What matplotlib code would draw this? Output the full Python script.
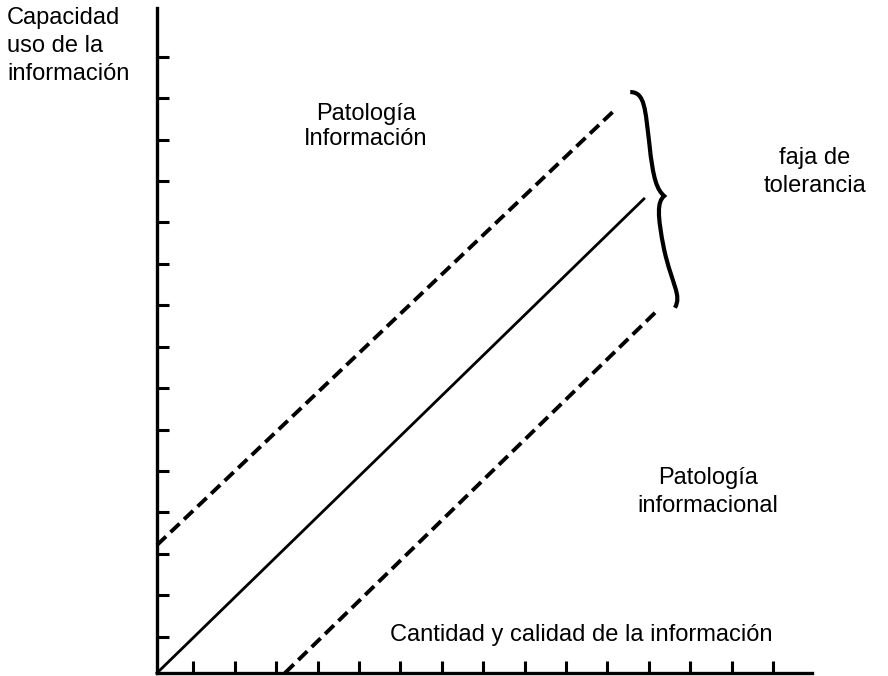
import numpy as np
import matplotlib
matplotlib.use("Agg")
import matplotlib.pyplot as plt
from matplotlib.path import Path
from matplotlib.patches import PathPatch

plt.rcParams['font.family'] = ['Liberation Sans', 'DejaVu Sans']

# tick positions (grid units)
x_ticks = np.arange(1, 16) - 0.12
y_ticks = np.arange(1, 16) - 0.12

# central line and the tolerance band limits
solid_x = [0.0, 11.76]
solid_y = [0.0, 11.45]
upper_x = [0.0, 11.06]
upper_y = [3.09, 13.60]
lower_x = [3.09, 12.10]
lower_y = [0.0, 8.77]

# curly brace outline (bezier vertices)
brace_x = [11.43, 11.79, 11.79, 11.89, 11.98, 12.08, 12.25,
           12.08, 12.08, 12.25, 12.44, 12.68, 12.51]
brace_y = [14.03, 14.03, 13.60, 12.80, 11.91, 11.67, 11.52,
           11.38, 11.06, 10.22, 9.37, 9.13, 8.82]

fig = plt.figure(figsize=(8.88, 6.76), dpi=100)
ax = fig.add_axes([157 / 888, 3 / 676, (812 - 157) / 888, (673 - 8) / 676])
ax.set_xlim(0, 15.82)
ax.set_ylim(0, 16.06)

for s in ['top', 'right']:
    ax.spines[s].set_visible(False)
for s in ['left', 'bottom']:
    ax.spines[s].set_linewidth(2.4)
ax.set_xticks(x_ticks)
ax.set_yticks(y_ticks)
ax.set_xticklabels([])
ax.set_yticklabels([])
ax.tick_params(direction='in', length=8.5, width=2.2, top=False, right=False)

ax.plot(solid_x, solid_y, color='black', lw=2.0, clip_on=False)
ax.plot(upper_x, upper_y, color='black', lw=2.8, dashes=(3.2, 1.6), clip_on=False)
ax.plot(lower_x, lower_y, color='black', lw=2.8, dashes=(3.2, 1.6), clip_on=False)

codes = [Path.MOVETO] + [Path.CURVE4] * 12
brace = Path(np.column_stack([brace_x, brace_y]), codes)
ax.add_patch(PathPatch(brace, fill=False, lw=3.0, color='black', clip_on=False))

fs = 17
fig.text(7 / 888, 1 - 7 / 676, 'Capacidad\nuso de la\ninformación', fontsize=fs,
         ha='left', va='top', linespacing=1.36)
ax.text(5.05, 13.2, 'Patología\nInformación', fontsize=fs, ha='center', va='center',
        linespacing=1.15)
ax.text(15.89, 12.09, 'faja de\ntolerancia', fontsize=fs, ha='center', va='center',
        linespacing=1.34)
ax.text(13.3, 4.37, 'Patología\ninformacional', fontsize=fs, ha='center', va='center',
        linespacing=1.36)
ax.text(10.24, 0.92, 'Cantidad y calidad de la información', fontsize=fs,
        ha='center', va='center')

fig.savefig('out.png', dpi=100)
